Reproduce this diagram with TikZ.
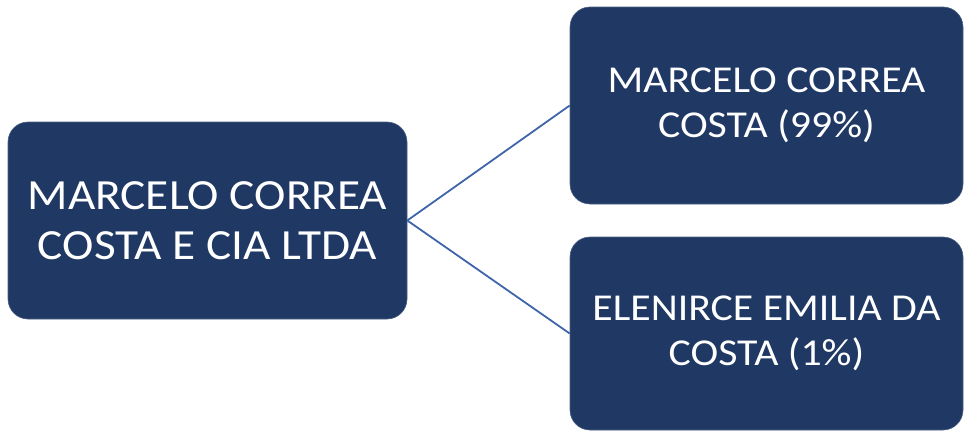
\documentclass[tikz,border=0pt]{standalone}
\usepackage{fontspec}
\setmainfont{Carlito}[FakeStretch=1.1]
\definecolor{boxfill}{RGB}{32,56,100}
\definecolor{linkblue}{RGB}{62,100,170}
\begin{document}
\begin{tikzpicture}[x=1pt,y=-1pt,
  orgbox/.style={fill=boxfill, draw=boxfill!80!white, line width=0.6pt, rounded corners=20pt,
    inner sep=0pt, align=center, text=white},
  bigtext/.style={font=\fontsize{43}{50}\selectfont},
  smalltext/.style={font=\fontsize{38}{45}\selectfont},
  link/.style={draw=linkblue, line width=1.8pt}]
\useasboundingbox (0,0) rectangle (964,431);
\node[orgbox, bigtext, minimum width=399pt, minimum height=197pt] (L) at (207.5,220.5)
  {MARCELO CORREA\\COSTA E CIA LTDA};
\node[orgbox, smalltext, minimum width=393pt, minimum height=197pt] (T) at (766.5,105.5)
  {MARCELO CORREA\\COSTA (99\%)};
\node[orgbox, smalltext, minimum width=393pt, minimum height=193pt] (B) at (766.5,333.5)
  {ELENIRCE EMILIA DA\\COSTA (1\%)};
\draw[link] (L.east) -- (T.west);
\draw[link] (L.east) -- (B.west);
\end{tikzpicture}
\end{document}
